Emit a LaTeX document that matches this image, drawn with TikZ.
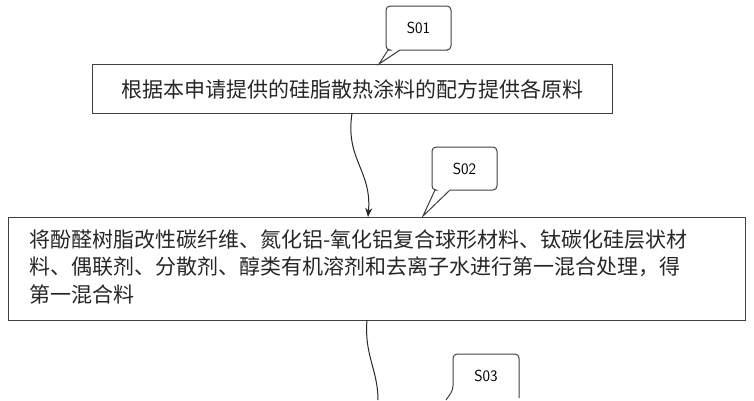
\documentclass[tikz,border=0pt]{standalone}
\usepackage{fontspec}
\usetikzlibrary{arrows.meta}
\newfontfamily\cjk{Noto Sans CJK SC}
\begin{document}
\begin{tikzpicture}[x=1pt,y=-1pt,
  stepbox/.style={draw=black!75,line width=1pt,inner sep=0pt},
  lbl/.style={font=\cjk\fontsize{21}{27.5}\selectfont,text=black!85},
  call/.style={draw=black!75,line width=1pt,rounded corners=4pt},
  con/.style={draw=black!85,line width=1pt}]
\useasboundingbox (0,0) rectangle (754,400);
\draw[stepbox] (92,64) rectangle (612,113);
\node[lbl] (t1) at (352,89) {根据本申请提供的硅脂散热涂料的配方提供各原料};
\coordinate (b1) at (352,113);
\draw[stepbox] (8,217) rectangle (745,320);
\node[lbl,anchor=north west,align=left] (t2) at (26,226) {将酚醛树脂改性碳纤维、氮化铝-氧化铝复合球形材料、钛碳化硅层状材\\料、偶联剂、分散剂、醇类有机溶剂和去离子水进行第一混合处理，得\\第一混合料};
\coordinate (a2) at (368,217);
\coordinate (b2) at (367,320);
\coordinate (e3) at (378,400);
\draw[con,-{Stealth[length=9pt,width=7pt]}] (b1) .. controls (345,160) and (372,170) .. (a2);
\draw[con] (b2) .. controls (364,355) and (378,370) .. (e3);
% callouts
\draw[call] (400,50) -- (444,50) -- (451,50) -- (451,6) -- (386,6) -- (386,50) [sharp corners]-- (388,50) -- (379,64) -- (400,50);
\node[font=\sffamily\fontsize{16}{16}\selectfont] (s1) at (418.5,28) {S01};
\draw[call] (450,190) -- (497,190) -- (497,147) -- (432,147) -- (432,190) [sharp corners]-- (435,190) -- (423,216) -- (450,190);
\node[font=\sffamily\fontsize{16}{16}\selectfont] (s2) at (464.5,169) {S02};
\draw[call] (519,398) -- (519,354) -- (453,354) -- (453,390) [sharp corners]-- (446,400);
\node[font=\sffamily\fontsize{16}{16}\selectfont] (s3) at (486,376) {S03};
\end{tikzpicture}
\end{document}
